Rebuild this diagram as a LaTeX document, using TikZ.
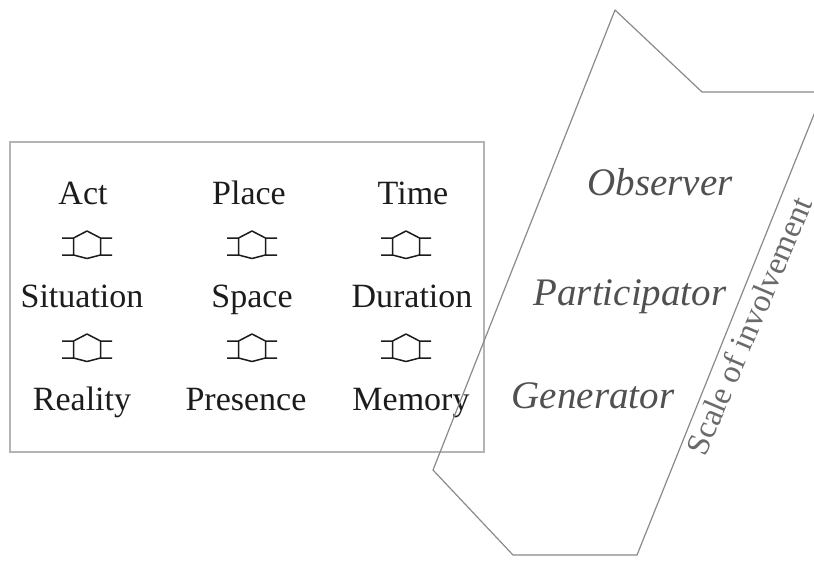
\documentclass[tikz,border=0pt]{standalone}
\usepackage{fontspec}
\setmainfont{Liberation Serif}
\definecolor{framegray}{HTML}{B4B4B4}
\definecolor{shapegray}{HTML}{8A8A8A}
\definecolor{italgray}{HTML}{505050}
\definecolor{inkdark}{HTML}{1C1C1C}
\begin{document}
\begin{tikzpicture}[x=1pt,y=-1pt,
  lbl/.style={anchor=base,inner sep=0pt,text=inkdark,font=\fontsize{34}{40}\selectfont},
  rolelbl/.style={anchor=base,inner sep=0pt,text=italgray,font=\fontsize{39}{46}\selectfont\itshape},
  scalelbl/.style={inner sep=0pt,text=italgray!85,font=\fontsize{32.5}{40}\selectfont,rotate=67},
  framebox/.style={draw=framegray,line width=1.5pt,inner sep=0pt,minimum width=474pt,minimum height=310pt},
  shapeline/.style={draw=shapegray,line width=1.2pt,line join=round},
  updown/.pic={
    \draw[inkdark,line width=1.5pt,line join=round]
      (-25,-8) -- (-13.5,-8) -- (0,-15) -- (13.5,-8) -- (25,-8)
      (-13.5,-8) -- (-13.5,9) (13.5,-8) -- (13.5,9)
      (-25,9) -- (-13.5,9) -- (0,12.5) -- (13.5,9) -- (25,9);
  }]
\useasboundingbox[fill=white] (0,0) rectangle (814,560);

% left frame
\node[framebox] (frame) at (247,297) {};

% labels
\node[lbl] (act)  at (83,204) {Act};
\node[lbl] (place) at (249,204) {Place};
\node[lbl] (time) at (413,204) {Time};
\node[lbl] (situation) at (82,307) {Situation};
\node[lbl] (space) at (252,307) {Space};
\node[lbl] (duration) at (412,307) {Duration};
\node[lbl] (reality) at (82,410) {Reality};
\node[lbl] (presence) at (246,410) {Presence};
\node[lbl] (memory) at (411,410) {Memory};

% double arrows
\pic (ud1) at (87,246) {updown};
\pic (ud2) at (252,246) {updown};
\pic (ud3) at (406,246) {updown};
\pic (ud4) at (87,349) {updown};
\pic (ud5) at (252,349) {updown};
\pic (ud6) at (406,349) {updown};

% scale shape
\begin{scope}
\clip (0,0) rectangle (814,560);
\coordinate (tip) at (615,10);
\coordinate (tnotch) at (702,92);
\coordinate (tright) at (823,92);
\coordinate (bright) at (637,555);
\coordinate (bleft) at (513,555);
\coordinate (bnotch) at (433,470);
\draw[shapeline] (tip) -- (tnotch) -- (tright) -- (bright) -- (bleft) -- (bnotch) -- cycle;
\end{scope}

\node[rolelbl] (observer) at (660,195) {Observer};
\node[rolelbl] (participator) at (630,305) {Participator};
\node[rolelbl] (generator) at (593,408) {Generator};
\node[scalelbl] (scale) at (749,326) {Scale of involvement};
\end{tikzpicture}
\end{document}
